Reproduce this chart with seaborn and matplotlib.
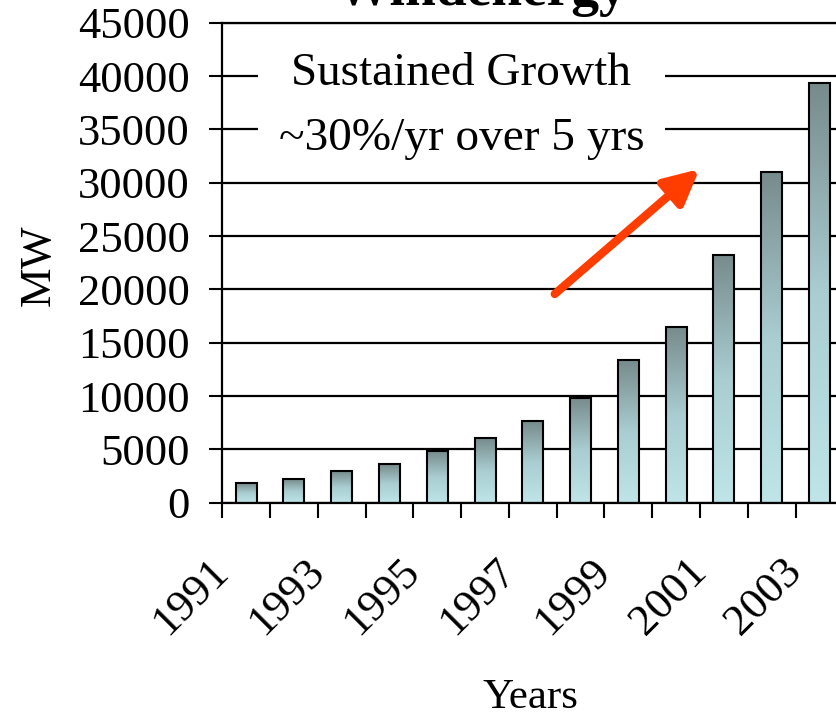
import numpy as np
import pandas as pd
import matplotlib
matplotlib.use("Agg")
import matplotlib.pyplot as plt
import seaborn as sns
from matplotlib.patches import Rectangle
from matplotlib.colors import LinearSegmentedColormap

# ---------------- data ----------------
years = ["1991", "1992", "1993", "1994", "1995", "1996", "1997",
         "1998", "1999", "2000", "2001", "2002", "2003"]
capacity_mw = [1800, 2200, 3000, 3600, 4800, 6050, 7650,
               9850, 13400, 16450, 23250, 31000, 39300]
y_ticks = [0, 5000, 10000, 15000, 20000, 25000, 30000, 35000, 40000, 45000]
title_text = "Windenergy"
x_label = "Years"
y_label = "MW"
annotation_lines = ["Sustained Growth", "~30%/yr over 5 yrs"]
arrow_tail = (6.46, 19566)   # (category index, MW)
arrow_head = (9.49, 31284)

# ---------------- style ----------------
sns.set_theme(style="white")
plt.rcParams['font.family'] = ['Liberation Serif', 'DejaVu Serif']

W, H = 836, 718
fig = plt.figure(figsize=(W / 100, H / 100), dpi=100)
ax_left, ax_bottom_px, ax_w, ax_h = 222.3, 502.7, 621.0, 480.0
ax = fig.add_axes([ax_left / W, 1 - ax_bottom_px / H, ax_w / W, ax_h / H])

df = pd.DataFrame({"Year": years, "MW": capacity_mw})
sns.barplot(data=df, x="Year", y="MW", ax=ax, color="#9bb5b8", width=0.44,
            edgecolor="black", linewidth=1.5, zorder=2)

# vertical gradient fill per bar (dark top -> light bottom)
cmap = LinearSegmentedColormap.from_list("bar", ["#bfe5e9", "#a9cdd1", "#778b8c"])
grad = np.linspace(0, 1, 256).reshape(-1, 1)
for p in list(ax.patches):
    x0, y0, w, h = p.get_x(), p.get_y(), p.get_width(), p.get_height()
    ax.imshow(grad, cmap=cmap, origin="lower", extent=[x0, x0 + w, y0, y0 + h],
              aspect="auto", zorder=1.9, interpolation="bilinear")
    p.set_facecolor("none")

n = len(years)
ax.set_xlim(-0.5, n - 0.5)
ax.set_ylim(y_ticks[0], y_ticks[-1])

# grid & spines
ax.set_axisbelow(True)
ax.yaxis.grid(True, color="black", linewidth=1.6)
ax.xaxis.grid(False)
for side in ["left", "bottom", "top"]:
    ax.spines[side].set_visible(True)
    ax.spines[side].set_color("black")
    ax.spines[side].set_linewidth(1.6)
ax.spines["right"].set_visible(False)

# y ticks
ax.set_yticks(y_ticks)
ax.set_yticklabels([str(v) for v in y_ticks])
ax.tick_params(axis="y", direction="out", length=9.5, width=1.5, pad=14,
               labelsize=32, colors="black", left=True)

# x ticks at category boundaries, labels every other year
boundaries = np.arange(n + 1) - 0.5
xlabels = [years[i] if (i % 2 == 0 and i < n) else "" for i in range(n + 1)]
ax.set_xticks(boundaries)
ax.set_xticklabels(xlabels)
ax.tick_params(axis="x", direction="out", length=11, width=1.5, pad=34,
               labelsize=32, colors="black", bottom=True)
for lbl in ax.get_xticklabels():
    lbl.set_rotation(45)
    lbl.set_ha("right")
    lbl.set_va("center")
    lbl.set_rotation_mode("anchor")

ax.set_xlabel(x_label, fontsize=31, color="black")
ax.xaxis.set_label_coords(0.497, -0.366)
ax.set_ylabel(y_label, fontsize=32, color="black")
ax.yaxis.set_label_coords(-0.263, 0.495)

# title (cut off at top as in reference)
fig.text(481 / W, 1 - 5 / H, title_text, ha="center", va="baseline",
         fontsize=40, fontweight="bold", color="black")

# annotation box
ax.add_patch(Rectangle((0.0575, 0.7035), 0.655, 0.281, transform=ax.transAxes,
                       facecolor="white", edgecolor="none", zorder=1.5))
ax.text(0.385, 0.870, annotation_lines[0], transform=ax.transAxes, ha="center",
        va="baseline", fontsize=34, color="black", zorder=3)
ax.text(0.385, 0.735, annotation_lines[1], transform=ax.transAxes, ha="center",
        va="baseline", fontsize=34, color="black", zorder=3)

# arrow
ax.annotate("", xy=arrow_head, xytext=arrow_tail,
            arrowprops=dict(arrowstyle="-|>", color="#ff3d00", lw=6,
                            mutation_scale=52, shrinkA=0, shrinkB=0),
            zorder=4)

fig.savefig("out.png", dpi=100)
